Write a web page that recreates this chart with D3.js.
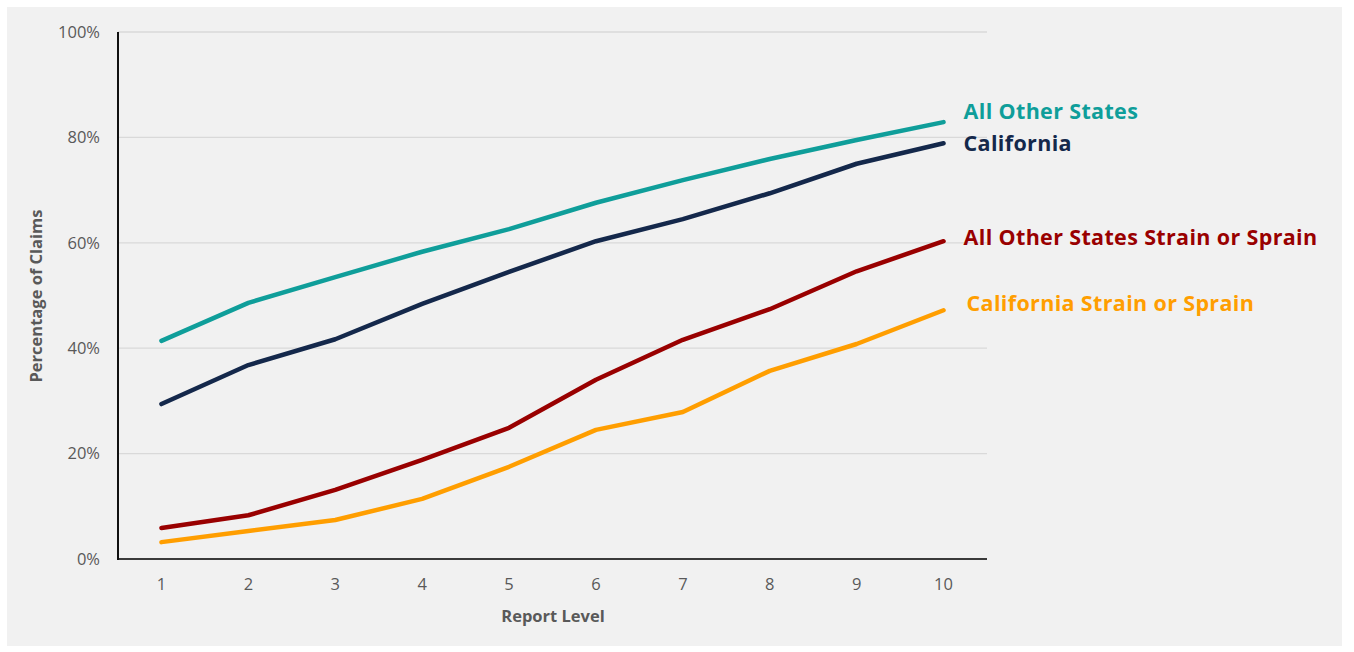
<!DOCTYPE html>
<meta charset="utf-8">
<style>
body { margin: 0; background: #fff; }
.tick text { font-family: "Open Sans", sans-serif; font-size: 16.5px; fill: #595959; }
.label { font-family: "Open Sans", sans-serif; font-weight: 700; font-size: 21.5px; letter-spacing: 0.35px; }
.title { font-family: "Open Sans", sans-serif; font-weight: 700; font-size: 16.5px; fill: #595959; }
</style>
<svg width="1354" height="652"></svg>
<script src="https://cdn.jsdelivr.net/npm/d3@7"></script>
<script>

var levels = [1, 2, 3, 4, 5, 6, 7, 8, 9, 10];
var allOther = [41.4, 48.6, 53.5, 58.3, 62.6, 67.6, 71.9, 75.9, 79.5, 82.9];
var california = [29.4, 36.8, 41.7, 48.4, 54.5, 60.3, 64.5, 69.4, 75.0, 78.9];
var allOtherStrain = [5.9, 8.3, 13.1, 18.8, 24.9, 34.0, 41.6, 47.4, 54.6, 60.3];
var californiaStrain = [3.2, 5.3, 7.4, 11.4, 17.5, 24.5, 27.9, 35.7, 40.8, 47.2];
var yTicks = [0, 20, 40, 60, 80, 100];

var series = [
  { name: "All Other States", values: allOther, color: "#0f9e9a", dy: -9 },
  { name: "California", values: california, color: "#14284b", dy: 2 },
  { name: "All Other States Strain or Sprain", values: allOtherStrain, color: "#990000", dy: -2 },
  { name: "California Strain or Sprain", values: californiaStrain, color: "#ff9e00", dy: -5, dx: 3 }
];

var svg = d3.select("svg");

svg.append("rect")
    .attr("x", 7).attr("y", 7)
    .attr("width", 1335).attr("height", 639)
    .attr("fill", "#f1f1f1");

var plotLeft = 118, plotRight = 987, plotTop = 32, plotBottom = 559;

var x = d3.scaleBand().domain(levels).range([plotLeft, plotRight]);
var y = d3.scaleLinear().domain([0, 100]).range([plotBottom, plotTop]);

// gridlines
svg.append("g")
  .selectAll("line")
  .data(yTicks.slice(1))
  .enter().append("line")
    .attr("x1", plotLeft).attr("x2", plotRight)
    .attr("y1", function(d) { return y(d); })
    .attr("y2", function(d) { return y(d); })
    .attr("stroke", "#d9d9d9")
    .attr("stroke-width", 1.3);

var yAxis = svg.append("g")
    .attr("transform", "translate(" + plotLeft + ",0)")
    .call(d3.axisLeft(y).tickValues(yTicks).tickSize(0).tickPadding(18)
      .tickFormat(function(d) { return d + "%"; }));
yAxis.select(".domain").remove();

var xAxis = svg.append("g")
    .attr("transform", "translate(0," + plotBottom + ")")
    .call(d3.axisBottom(x).tickSize(0).tickPadding(19));
xAxis.select(".domain").remove();

svg.append("line")
    .attr("x1", plotLeft).attr("x2", plotRight)
    .attr("y1", plotBottom).attr("y2", plotBottom)
    .attr("stroke", "#3a3a3a").attr("stroke-width", 2);
svg.append("line")
    .attr("x1", plotLeft).attr("x2", plotLeft)
    .attr("y1", plotTop).attr("y2", plotBottom + 1)
    .attr("stroke", "#111").attr("stroke-width", 2);

var line = d3.line()
    .x(function(d, i) { return x(levels[i]) + x.bandwidth() / 2; })
    .y(function(d) { return y(d); });

svg.append("g")
  .selectAll("path")
  .data(series)
  .enter().append("path")
    .attr("d", function(d) { return line(d.values); })
    .attr("fill", "none")
    .attr("stroke", function(d) { return d.color; })
    .attr("stroke-width", 4.5)
    .attr("stroke-linecap", "round")
    .attr("stroke-linejoin", "round");

svg.append("g")
  .selectAll("text")
  .data(series)
  .enter().append("text")
    .attr("class", "label")
    .attr("x", x(10) + x.bandwidth() / 2 + 20)
    .attr("dx", function(d) { return d.dx || 0; })
    .attr("y", function(d) { return y(d.values[9]) + d.dy; })
    .attr("dominant-baseline", "middle")
    .attr("fill", function(d) { return d.color; })
    .text(function(d) { return d.name; });

svg.append("text")
    .attr("class", "title")
    .attr("text-anchor", "middle")
    .attr("transform", "translate(42,296) rotate(-90)")
    .text("Percentage of Claims");

svg.append("text")
    .attr("class", "title")
    .attr("text-anchor", "middle")
    .attr("x", 553).attr("y", 622)
    .text("Report Level");

</script>
